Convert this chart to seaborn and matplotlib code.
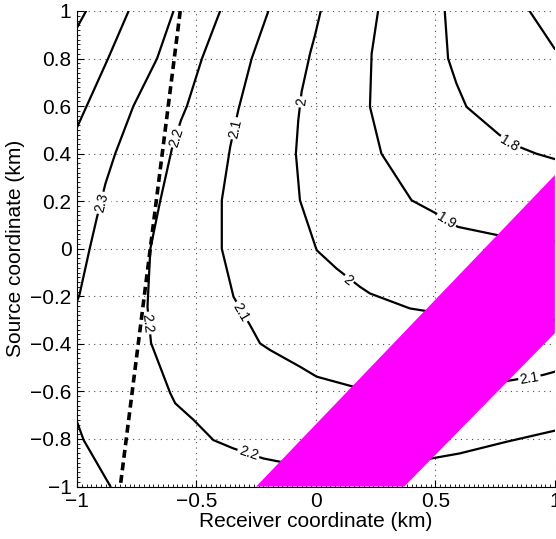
import matplotlib
matplotlib.use("Agg")
import matplotlib.pyplot as plt
import numpy as np
import seaborn as sns
from matplotlib.ticker import FuncFormatter, MultipleLocator

# contour lines (receiver x, source y)
c25_x = [-0.962, -1.0]
c25_y = [1.0, 0.93]
c24_x = [-0.784, -0.87, -1.0]
c24_y = [1.0, 0.80, 0.51]
c23_x = [-0.596, -0.665, -0.764, -0.84, -0.881, -0.916, -0.947, -0.99, -1.0]
c23_y = [1.0, 0.80, 0.60, 0.40, 0.274, 0.134, 0.0, -0.195, -0.22]
c23b_x = [-1.0, -0.972, -0.86]
c23b_y = [-0.728, -0.805, -1.0]
c22_x = [-0.401, -0.477, -0.54, -0.565, -0.603, -0.652, -0.693, -0.705, -0.69,
         -0.61, -0.589, -0.512, -0.429, -0.345, -0.22, -0.15, 0.0, 0.25, 0.483,
         0.601, 0.797, 1.0]
c22_y = [1.0, 0.80, 0.60, 0.54, 0.42, 0.20, 0.0, -0.244, -0.397, -0.607, -0.65,
         -0.72, -0.805, -0.84, -0.882, -0.896, -0.91, -0.905, -0.882, -0.861,
         -0.812, -0.765]
c21_x = [-0.199, -0.269, -0.325, -0.359, -0.394, -0.394, -0.345, -0.276, -0.234,
         -0.192, -0.067, 0.003, 0.156, 0.4, 0.6, 0.782, 0.95, 1.0]
c21_y = [1.0, 0.80, 0.583, 0.428, 0.204, 0.0, -0.202, -0.321, -0.398, -0.426,
         -0.496, -0.538, -0.58, -0.60, -0.585, -0.559, -0.531, -0.517]
c20_x = [0.02, -0.004, -0.025, -0.06, -0.074, -0.084, -0.067, -0.011, 0.003,
         0.086, 0.184, 0.226, 0.393, 0.455, 0.7, 1.0]
c20_y = [1.0, 0.898, 0.82, 0.66, 0.54, 0.40, 0.204, 0.036, -0.006, -0.083,
         -0.16, -0.188, -0.251, -0.261, -0.29, -0.30]
c19_x = [0.26, 0.233, 0.226, 0.274, 0.40, 0.504, 0.594, 0.761, 1.0]
c19_y = [1.0, 0.82, 0.597, 0.40, 0.204, 0.148, 0.092, 0.057, 0.03]
c18_x = [0.539, 0.553, 0.588, 0.63, 0.769, 0.852, 0.922, 1.0]
c18_y = [1.0, 0.80, 0.695, 0.597, 0.478, 0.428, 0.40, 0.377]
c17_x = [0.894, 1.0]
c17_y = [1.0, 0.84]

contours = {
    "2.5": (c25_x, c25_y),
    "2.4": (c24_x, c24_y),
    "2.3": (c23_x, c23_y),
    "2.3b": (c23b_x, c23b_y),
    "2.2": (c22_x, c22_y),
    "2.1": (c21_x, c21_y),
    "2": (c20_x, c20_y),
    "1.9": (c19_x, c19_y),
    "1.8": (c18_x, c18_y),
    "1.7": (c17_x, c17_y),
}

# inline contour labels
label_text = ["2.3", "2.2", "2.2", "2.2", "2.1", "2.1", "2.1", "2", "2", "1.9", "1.8"]
label_x = [-0.895, -0.582, -0.705, -0.283, -0.338, -0.317, 0.894, -0.06, 0.135, 0.546, 0.81]
label_y = [0.192, 0.47, -0.313, -0.861, 0.506, -0.268, -0.545, 0.617, -0.132, 0.12, 0.443]

# dashed straight line
dash_x = [-0.568, -0.819]
dash_y = [1.0, -1.0]

# magenta band
band_x = [-0.25, 1.0, 1.0, 0.37]
band_y = [-1.0, 0.31, -0.355, -1.0]

xticks = [-1, -0.5, 0, 0.5, 1]
yticks = [-1, -0.8, -0.6, -0.4, -0.2, 0, 0.2, 0.4, 0.6, 0.8, 1]

sns.set_theme(style="ticks")
plt.rcParams["font.family"] = ["Liberation Sans", "DejaVu Sans"]
plt.rcParams["axes.unicode_minus"] = True
for key in ("text.color", "axes.labelcolor", "xtick.color", "ytick.color"):
    plt.rcParams[key] = "black"

fig = plt.figure(figsize=(5.56, 5.39), dpi=100)
ax = fig.add_axes([0.1385, 0.0974, 0.8595, 0.8822])
ax.set_xlim(-1, 1)
ax.set_ylim(-1, 1)

for name, (xs, ys) in contours.items():
    sns.lineplot(x=xs, y=ys, sort=False, estimator=None, color="black",
                 linewidth=1.6, ax=ax, zorder=3)


def label_angle(xs, ys, lx, ly):
    pts = ax.transData.transform(np.column_stack([xs, ys]))
    p = ax.transData.transform([lx, ly])
    best, ang = None, 0.0
    for i in range(len(pts) - 1):
        a, b = pts[i], pts[i + 1]
        d = b - a
        t = np.clip(np.dot(p - a, d) / max(np.dot(d, d), 1e-9), 0, 1)
        dist = np.linalg.norm(a + t * d - p)
        if best is None or dist < best:
            best = dist
            ang = np.degrees(np.arctan2(d[1], d[0]))
    if ang > 90:
        ang -= 180
    elif ang <= -90:
        ang += 180
    return ang


for txt, lx, ly in zip(label_text, label_x, label_y):
    xs, ys = contours[txt]
    ang = label_angle(xs, ys, lx, ly)
    ax.text(lx, ly, txt, rotation=ang, rotation_mode="anchor", ha="center",
            va="center", fontsize=10, color="black", zorder=4,
            bbox=dict(boxstyle="square,pad=0.12", fc="white", ec="none"))

sns.lineplot(x=dash_x, y=dash_y, sort=False, estimator=None, color="black",
             linewidth=2.6, ax=ax, zorder=5)
ax.lines[-1].set_dashes((2.2, 1.3))

ax.fill(band_x, band_y, color="#ff00ff", lw=0, zorder=6)

ax.set_xticks(xticks)
ax.set_yticks(yticks)
fmt = FuncFormatter(lambda v, _: f"{v:g}".replace("-", "\u2212"))
ax.xaxis.set_major_formatter(fmt)
ax.yaxis.set_major_formatter(fmt)
ax.xaxis.set_minor_locator(MultipleLocator(0.02))
ax.yaxis.set_minor_locator(MultipleLocator(0.02))
ax.tick_params(which="major", direction="in", length=5, width=0.8,
               labelsize=15, pad=4, color="black", labelcolor="black")
ax.tick_params(which="minor", direction="in", length=2.5, width=0.6, color="black")
ax.grid(True, which="major", color="0.3", linestyle=(0, (1, 4)), linewidth=0.8)

for side in ("top", "right"):
    ax.spines[side].set_visible(False)
for side in ("left", "bottom"):
    ax.spines[side].set_color("black")
    ax.spines[side].set_linewidth(0.8)
    ax.spines[side].set_zorder(7)

ax.set_xlabel("Receiver coordinate (km)", fontsize=15, labelpad=1, color="black")
ax.set_ylabel("Source coordinate (km)", fontsize=15, labelpad=4, color="black")

fig.savefig("out.png", dpi=100)
